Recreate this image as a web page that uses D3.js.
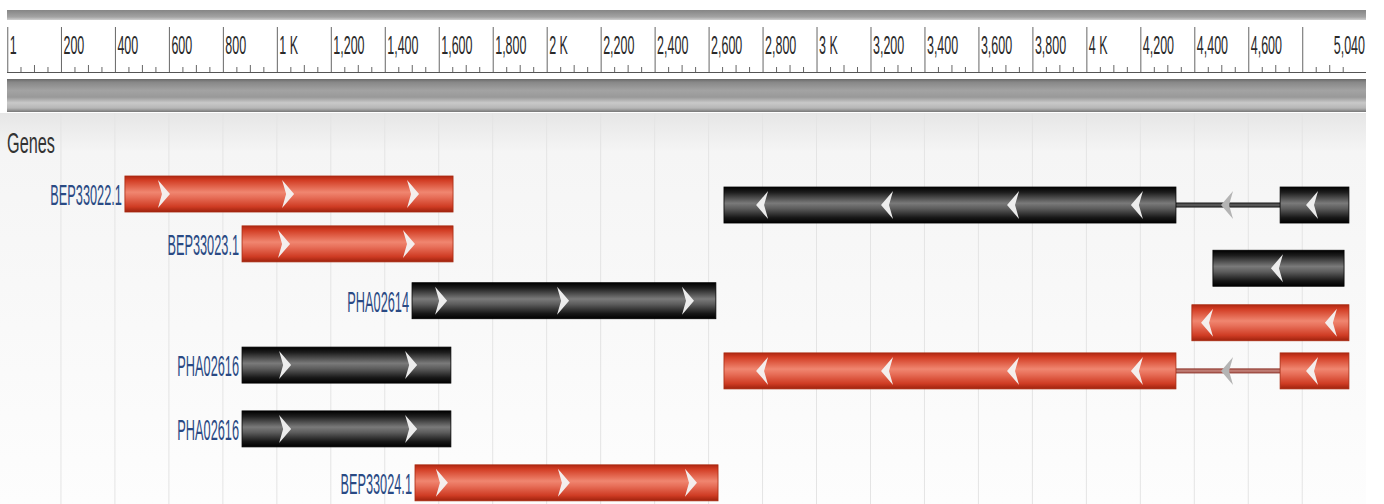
<!DOCTYPE html>
<html>
<head>
<meta charset="utf-8">
<script src="https://cdn.jsdelivr.net/npm/d3@7.9.0/dist/d3.min.js"></script>
<style>
  body { margin: 0; background: #fff; }
  svg { display: block; font-family: Arial, 'Liberation Sans', sans-serif; }
</style>
</head>
<body>
<svg id="chart" width="1384" height="504"></svg>
<script>
// --- ruler ticks ---
const majorTicks = [1, 200, 400, 600, 800, 1000, 1200, 1400, 1600, 1800, 2000, 2200, 2400,
  2600, 2800, 3000, 3200, 3400, 3600, 3800, 4000, 4200, 4400, 4600, 4800];
const majorLabels = ['1', '200', '400', '600', '800', '1 K', '1,200', '1,400', '1,600', '1,800', '2 K',
  '2,200', '2,400', '2,600', '2,800', '3 K', '3,200', '3,400', '3,600', '3,800', '4 K', '4,200',
  '4,400', '4,600', ''];
const seqLength = 5040;
const endLabel = '5,040';
const trackTitle = 'Genes';

// --- genes (positions in bp) ---
const geneNames  = ['BEP33022.1', 'BEP33023.1', 'PHA02614', 'PHA02616', 'PHA02616', 'BEP33024.1', '', '', '', ''];
const geneColors = ['red', 'red', 'black', 'black', 'black', 'red', 'black', 'black', 'red', 'red'];
const geneStrand = ['+', '+', '+', '+', '+', '+', '-', '-', '-', '-'];
const geneLanes  = [0, 0.86, 1.84, 2.95, 4.05, 4.98, 0.19, 1.28, 2.22, 3.05];
const geneExons  = [
  [[437, 1653]],
  [[871, 1653]],
  [[1501, 2627]],
  [[871, 1645]],
  [[871, 1645]],
  [[1512, 2635]],
  [[2657, 4332], [4718, 4973]],
  [[4469, 4955]],
  [[4391, 4973]],
  [[2657, 4332], [4718, 4973]],
];
const geneArrows = [
  [578, 1038, 1501],
  [1023, 1486],
  [1605, 2057, 2520],
  [1027, 1494],
  [1027, 1494],
  [1608, 2060, 2531],
  [2802, 3265, 3732, 4191, 4525, 4840],
  [4710],
  [4451, 4910],
  [2802, 3265, 3732, 4191, 4525, 4840],
];

const W = 1384, H = 504;
const svg = d3.select('#chart');

const x = d3.scaleLinear().domain([0, seqLength]).range([7, 1367]);
const y = d3.scaleLinear().domain([0, 1]).range([194, 252]); // lane -> bar centre
const barH = 36;
const rulerLeft = 7, rulerRight = 1366, baseY = 72;

// --- gradients ---
const defs = svg.append('defs');
function vGrad(id, stops) {
  const g = defs.append('linearGradient').attr('id', id)
    .attr('x1', 0).attr('y1', 0).attr('x2', 0).attr('y2', 1);
  stops.forEach(([o, c]) => g.append('stop').attr('offset', o).attr('stop-color', c));
}
vGrad('red', [[0, '#b02712'], [0.12, '#d23d24'], [0.45, '#f08670'], [0.58, '#e8705a'], [0.85, '#cf3c24'], [1, '#9e220d']]);
vGrad('black', [[0, '#000'], [0.15, '#1e1e1e'], [0.45, '#7a7a7a'], [0.6, '#5c5c5c'], [0.85, '#181818'], [1, '#000']]);
vGrad('redIntron', [[0, '#8a2f25'], [0.5, '#c98a82'], [1, '#8a2f25']]);
vGrad('blackIntron', [[0, '#111'], [0.5, '#666'], [1, '#111']]);
vGrad('topBand', [[0, '#858585'], [0.7, '#a3a3a3'], [1, '#d0d0d0']]);
vGrad('rulerBar', [[0, '#6a6a6a'], [0.1, '#888'], [0.35, '#a3a3a3'], [0.55, '#999'], [0.72, '#c9c9c9'], [0.88, '#b6b6b6'], [1, '#777']]);
vGrad('bgFade', [[0, '#e6e6e6'], [0.1, '#f5f5f5'], [1, '#fdfdfd']]);

// --- backgrounds ---
svg.append('rect').attr('x', 0).attr('y', 113).attr('width', rulerRight).attr('height', H - 113)
  .attr('fill', 'url(#bgFade)');

// vertical grid lines in the gene area
svg.append('g').selectAll('line')
  .data(majorTicks.slice(1))
  .join('line')
  .attr('x1', d => x(d)).attr('x2', d => x(d))
  .attr('y1', 113).attr('y2', H)
  .attr('stroke', '#e4e4e4').attr('stroke-width', 1);

// top band and lower cylinder of the ruler
svg.append('rect').attr('x', rulerLeft).attr('y', 10).attr('width', rulerRight - rulerLeft).attr('height', 10)
  .attr('fill', 'url(#topBand)');
svg.append('rect').attr('x', rulerLeft).attr('y', 79).attr('width', rulerRight - rulerLeft).attr('height', 33)
  .attr('fill', 'url(#rulerBar)');

// --- ruler axis ---
const labelScale = 0.48;
const axisG = svg.append('g')
  .attr('transform', `translate(0,${baseY})`)
  .call(d3.axisTop(x).tickValues(majorTicks).tickSize(45).tickFormat((d, i) => majorLabels[i]));
axisG.attr('font-family', null).attr('font-size', 26);
axisG.select('.domain').remove();
axisG.selectAll('.tick line').attr('stroke', '#666');
axisG.selectAll('.tick text')
  .attr('text-anchor', 'start')
  .attr('transform', `scale(${labelScale},1)`)
  .attr('x', 2 / labelScale)
  .attr('y', -18)
  .attr('dy', null)
  .attr('fill', '#2a2a2a');

const minorTicks = d3.range(50, seqLength, 50).filter(v => v % 200 !== 0);
const minorG = svg.append('g')
  .attr('transform', `translate(0,${baseY})`)
  .call(d3.axisTop(x).tickValues(minorTicks).tickSize(5).tickFormat(''));
minorG.select('.domain').remove();
minorG.selectAll('.tick line')
  .attr('stroke', '#666')
  .attr('y2', d => (d % 100 === 0 ? -7 : -5));

svg.append('line')
  .attr('x1', rulerLeft).attr('x2', rulerRight)
  .attr('y1', baseY + 0.5).attr('y2', baseY + 0.5)
  .attr('stroke', '#555');

svg.append('g')
  .attr('transform', `translate(${rulerRight - 1},${baseY - 18}) scale(${labelScale},1)`)
  .append('text')
  .attr('text-anchor', 'end')
  .attr('font-size', 26)
  .attr('fill', '#2a2a2a')
  .text(endLabel);

// --- track title ---
svg.append('g')
  .attr('transform', `translate(7,153) scale(0.56,1)`)
  .append('text')
  .attr('font-size', 29)
  .attr('fill', '#333')
  .text(trackTitle);

// --- genes ---
const genes = d3.range(geneNames.length);
const geneG = svg.append('g').selectAll('g.gene')
  .data(genes)
  .join('g')
  .attr('class', 'gene');

// introns
geneG.each(function (i) {
  const ex = geneExons[i];
  const cy = y(geneLanes[i]);
  for (let k = 1; k < ex.length; k++) {
    d3.select(this).append('rect')
      .attr('x', x(ex[k - 1][1])).attr('y', cy - 2.5)
      .attr('width', x(ex[k][0]) - x(ex[k - 1][1])).attr('height', 5)
      .attr('fill', geneColors[i] === 'red' ? 'url(#redIntron)' : 'url(#blackIntron)');
  }
});

// exons
geneG.selectAll('rect.exon')
  .data(i => geneExons[i].map(e => ({ e, i })))
  .join('rect')
  .attr('class', 'exon')
  .attr('x', d => x(d.e[0]))
  .attr('y', d => y(geneLanes[d.i]) - barH / 2)
  .attr('width', d => x(d.e[1]) - x(d.e[0]))
  .attr('height', barH)
  .attr('fill', d => (geneColors[d.i] === 'red' ? 'url(#red)' : 'url(#black)'))
  .attr('stroke', d => (geneColors[d.i] === 'red' ? '#a8290f' : '#000'))
  .attr('stroke-width', 0.8);

// strand arrows
const arrowRight = 'M-5,-14 L7,0 L-5,14 L-1,0 Z';
const arrowLeft = 'M5,-14 L-7,0 L5,14 L1,0 Z';
function inExon(i, p) {
  return geneExons[i].some(e => p >= e[0] && p <= e[1]);
}
geneG.selectAll('path.arrow')
  .data(i => geneArrows[i].map(p => ({ p, i })))
  .join('path')
  .attr('class', 'arrow')
  .attr('transform', d => `translate(${x(d.p)},${y(geneLanes[d.i])})`)
  .attr('d', d => (geneStrand[d.i] === '+' ? arrowRight : arrowLeft))
  .attr('fill', d => (inExon(d.i, d.p) ? '#f4f4f4' : '#b4b4b4'))
  .attr('opacity', d => (inExon(d.i, d.p) ? 0.95 : 1));

// gene labels
geneG.filter(i => geneNames[i] !== '')
  .append('g')
  .attr('transform', i => `translate(${x(geneExons[i][0][0]) - 3},${y(geneLanes[i]) + 11}) scale(0.44,1)`)
  .append('text')
  .attr('text-anchor', 'end')
  .attr('font-size', 29)
  .attr('fill', '#2a4a84')
  .text(i => geneNames[i]);
</script>
</body>
</html>
